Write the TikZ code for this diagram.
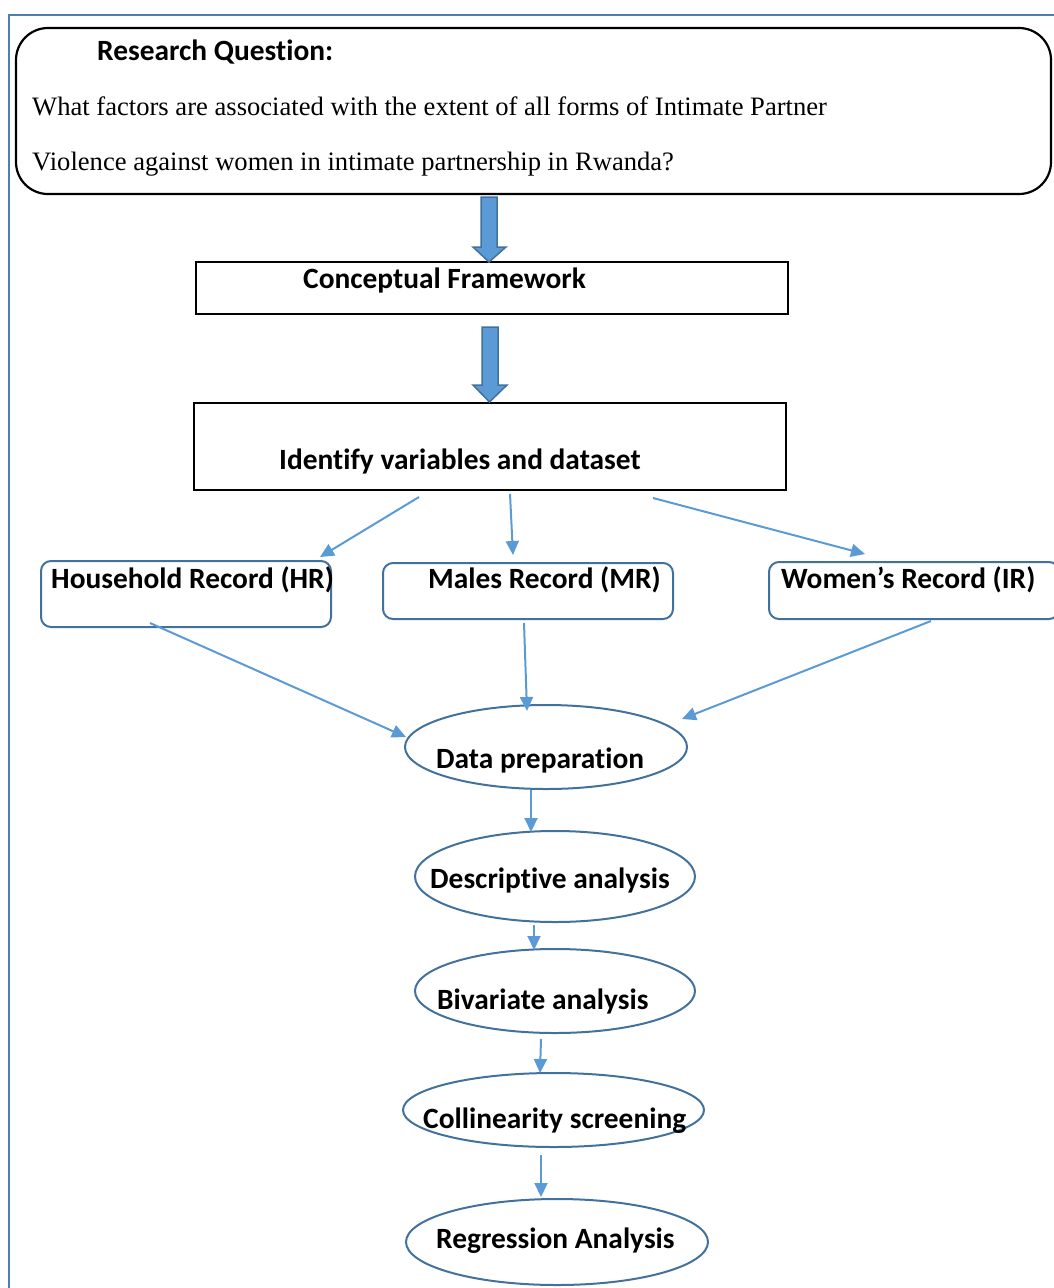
\documentclass[tikz,border=0pt]{standalone}
\usepackage{fontspec}
\setmainfont{Liberation Serif}
\newfontfamily\calib[Ligatures={NoCommon}]{Carlito}
\usetikzlibrary{arrows.meta,shapes.geometric}
\definecolor{frameblue}{HTML}{4F7EB5}
\definecolor{lineblue}{HTML}{5B9BD5}
\definecolor{edgeblue}{HTML}{41719C}
\tikzset{
  lbl/.style={inner sep=0pt,anchor=base west,font=\calib\fontsize{29.4}{34}\selectfont\bfseries},
  serif/.style={inner sep=0pt,anchor=base west,font=\fontsize{26.6}{30}\selectfont},
  blackbox/.style={draw=black,line width=2.2pt,inner sep=0pt},
  recbox/.style={draw=edgeblue,line width=2pt,rounded corners=10pt,inner sep=0pt},
  oval/.style={ellipse,draw=edgeblue,line width=2pt,inner sep=0pt},
  conn/.style={draw=lineblue,line width=2pt,-{Triangle[length=14pt,width=13pt]}},
  blockarrow/.style={fill=lineblue,draw=edgeblue,line width=1.5pt}
}
\begin{document}
\begin{tikzpicture}[x=1pt,y=-1pt]
\useasboundingbox (0,0) rectangle (1054,1288);
% outer frame
\draw[frameblue,line width=2.5pt] (9,1290) -- (9,15) -- (1056,15);
% research question box
\node[blackbox,rounded corners=32pt,minimum width=1035pt,minimum height=166pt] (rq) at (533.5,111) {};
\node[lbl] (rqt) at (97,60) {Research Question:};
\node[serif] (rq1) at (32,115) {What factors are associated with the extent of all forms of Intimate Partner};
\node[serif] (rq2) at (32,170) {Violence against women in intimate partnership in Rwanda?};
% conceptual framework
\node[blackbox,minimum width=592pt,minimum height=52pt] (cf) at (492,288) {};
\node[lbl] (cft) at (303,288) {Conceptual Framework};
% identify
\node[blackbox,minimum width=592pt,minimum height=87pt] (iv) at (490,446.5) {};
\node[lbl] (ivt) at (279,469) {Identify variables and dataset};
% block arrows
\path[blockarrow] (481,197) coordinate (b1) -- (497,197) -- (497,247) -- (506,247) -- (489,262) -- (473,247) -- (481,247) -- cycle;
\path[blockarrow] (482,327) coordinate (b2) -- (498,327) -- (498,385) -- (507,385) -- (489.5,402) -- (473,385) -- (482,385) -- cycle;
% record boxes
\node[recbox,minimum width=290pt,minimum height=66pt] (hr) at (186,594) {};
\node[lbl] (hrt) at (51,588) {Household Record (HR)};
\node[recbox,minimum width=290pt,minimum height=56pt] (mr) at (528,591) {};
\node[lbl] (mrt) at (428,588) {Males Record (MR)};
\node[recbox,minimum width=290pt,minimum height=57pt] (ir) at (914,590.5) {};
\node[lbl] (irt) at (781,588) {Women’s Record (IR)};
% ovals
\node[oval,minimum width=282pt,minimum height=84pt] (dp) at (546,747) {};
\node[lbl] (dpt) at (436,768) {Data preparation};
\node[oval,minimum width=280pt,minimum height=91pt] (da) at (555,876.5) {};
\node[lbl] (dat) at (430,888) {Descriptive analysis};
\node[oval,minimum width=280pt,minimum height=84pt] (ba) at (555,991) {};
\node[lbl] (bat) at (437,1009) {Bivariate analysis};
\node[oval,minimum width=301pt,minimum height=74pt] (cs) at (553.5,1110) {};
\node[lbl] (cst) at (423,1128) {Collinearity screening};
\node[oval,minimum width=302pt,minimum height=86pt] (ra) at (557,1242) {};
\node[lbl] (rat) at (436,1248) {Regression Analysis};
% connector start/end points
\coordinate (s1) at (419,497); \coordinate (e1) at (320,557);
\coordinate (s2) at (510,494); \coordinate (e2) at (513,555);
\coordinate (s3) at (653,498); \coordinate (e3) at (865,554);
\coordinate (s4) at (150,623); \coordinate (e4) at (406,737);
\coordinate (s5) at (524,623); \coordinate (e5) at (527,711);
\coordinate (s6) at (931,621); \coordinate (e6) at (682,719);
\coordinate (s7) at (531,790); \coordinate (e7) at (531,832);
\coordinate (s8) at (534,925); \coordinate (e8) at (534,950);
\coordinate (s9) at (541,1039); \coordinate (e9) at (540,1073);
\coordinate (s10) at (541,1155); \coordinate (e10) at (541,1197);
\draw[conn] (s1) -- (e1);
\draw[conn] (s2) -- (e2);
\draw[conn] (s3) -- (e3);
\draw[conn] (s4) -- (e4);
\draw[conn] (s5) -- (e5);
\draw[conn] (s6) -- (e6);
\draw[conn] (s7) -- (e7);
\draw[conn] (s8) -- (e8);
\draw[conn] (s9) -- (e9);
\draw[conn] (s10) -- (e10);
\end{tikzpicture}
\end{document}
